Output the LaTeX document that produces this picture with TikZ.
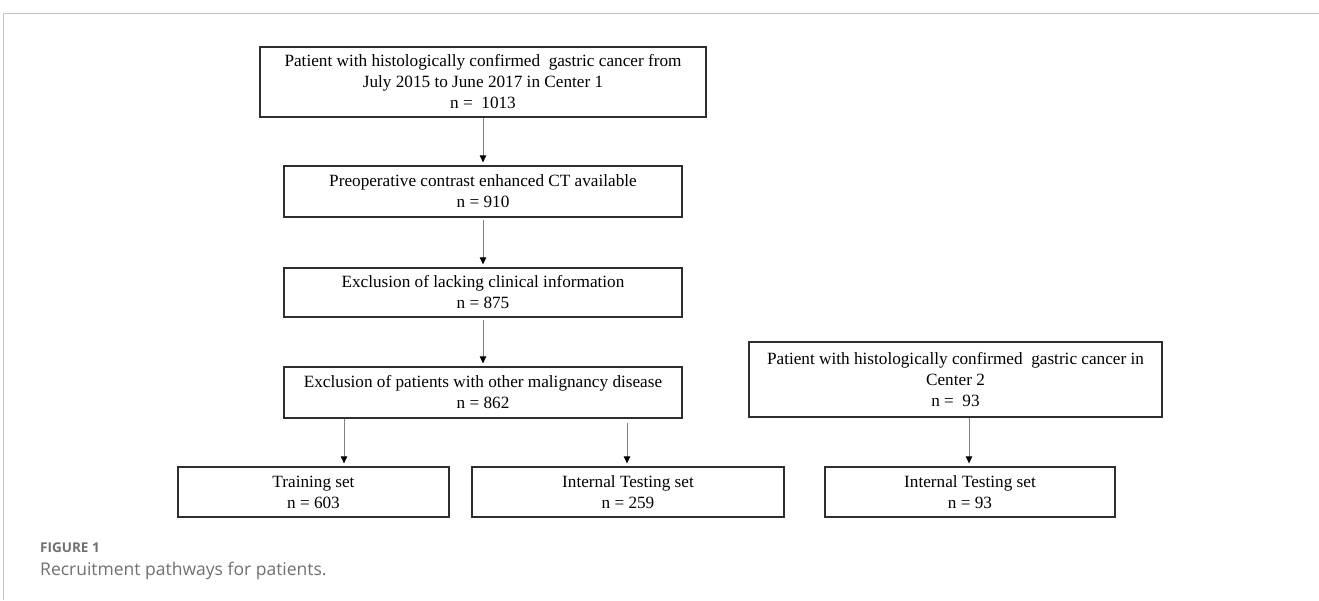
\documentclass[tikz,border=0pt]{standalone}
\usepackage{fontspec}
\setmainfont{Liberation Serif}
\newfontfamily\capfont{Open Sans}
\usetikzlibrary{arrows.meta}
\definecolor{boxline}{HTML}{2E2E2E}
\definecolor{arrline}{HTML}{808080}
\definecolor{framegray}{HTML}{C4C4C4}
\definecolor{capgray}{HTML}{707070}
\tikzset{
  flowbox/.style={draw=boxline, line width=1.3pt, align=center, inner sep=0pt,
    font=\fontsize{17.2}{21}\selectfont, text=black},
  flowarrow/.style={draw=arrline, line width=1pt,
    -{Triangle[length=7pt,width=6.5pt,color=black]}, shorten >=3pt}
}
\begin{document}
\begin{tikzpicture}[x=1pt,y=-1pt]
\useasboundingbox (0,0) rectangle (1319,600);
% frame
\draw[framegray, line width=1pt] (3.7,600) -- (3.7,13) -- (1319,13);
% boxes
\node[flowbox, minimum width=446pt, minimum height=70pt] (b1) at (483,82)
  {Patient with histologically confirmed\ \ gastric cancer from\\ July 2015 to June 2017 in Center 1\\ n =\ \ 1013};
\node[flowbox, minimum width=398pt, minimum height=51pt] (b2) at (483,191.5)
  {Preoperative contrast enhanced CT available\\ n = 910};
\node[flowbox, minimum width=398pt, minimum height=49pt] (b3) at (483,292.5)
  {Exclusion of lacking clinical information\\ n = 875};
\node[flowbox, minimum width=398pt, minimum height=51pt] (b4) at (483,392.5)
  {Exclusion of patients with other malignancy disease\\ n = 862};
\node[flowbox, minimum width=271pt, minimum height=50pt] (tr) at (313.5,492)
  {Training set\\ n = 603};
\node[flowbox, minimum width=312pt, minimum height=50pt] (it) at (628,492)
  {Internal Testing set\\ n = 259};
\node[flowbox, minimum width=413pt, minimum height=75pt] (c2) at (955.5,379.5)
  {Patient with histologically confirmed\ \ gastric cancer in\\ Center 2\\ n =\ \ 93};
\node[flowbox, minimum width=290pt, minimum height=50pt] (et) at (970,492)
  {Internal Testing set\\ n = 93};
% arrows
\draw[flowarrow] (b1.south) -- (b2.north);
\draw[flowarrow, shorten <=2pt] (b2.south) -- (b3.north);
\draw[flowarrow, shorten <=2pt] (b3.south) -- (b4.north);
\draw[flowarrow] (b4.south -| 344,0) -- (tr.north -| 344,0);
\draw[flowarrow, shorten <=4pt] (b4.south -| 627,0) -- (it.north -| 627,0);
\draw[flowarrow] (c2.south -| 969,0) -- (et.north -| 969,0);
% caption
\node[anchor=base west, inner sep=0pt, text=capgray, font=\capfont\bfseries\fontsize{13.5}{15}\selectfont] (fig) at (40,552) {FIGURE 1};
\node[anchor=base west, inner sep=0pt, text=capgray, font=\capfont\fontsize{17.5}{20}\selectfont] (cap) at (40,575) {Recruitment pathways for patients.};
\end{tikzpicture}
\end{document}
